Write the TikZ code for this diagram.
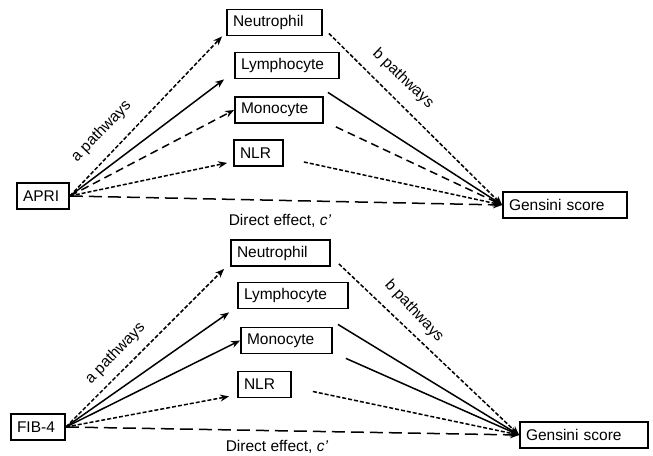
\documentclass[tikz,border=0pt]{standalone}
\usepackage{fontspec}
\setmainfont{Liberation Sans}
\usetikzlibrary{arrows.meta}

\begin{document}
\begin{tikzpicture}[x=1bp,y=-1bp,
  boite/.style={draw,line width=1.8bp,minimum height=26bp,inner xsep=6bp,inner ysep=0pt,align=left,font=\fontsize{15.5bp}{18bp}\selectfont},
  etiq/.style={inner sep=0pt,font=\fontsize{15.5bp}{18bp}\selectfont},
  fleche/.style={line width=1.5bp,-{Stealth[length=9bp,width=7bp]}},
  plein/.style={fleche},
  pointille/.style={fleche,dash pattern=on 4bp off 2bp},
  tirets/.style={fleche,dash pattern=on 8bp off 5bp},
  grandtirets/.style={fleche,dash pattern=on 13bp off 6bp}]
\useasboundingbox (0,0) rectangle (653,456);
%panneau du haut : APRI
\node[boite,text width=40bp] (apri) at (43,196) {APRI};
\node[boite,text width=83bp] (neu) at (274.5,22.5) {Neutrophil};
\node[boite,text width=92bp] (lym) at (287,65.5) {Lymphocyte};
\node[boite,text width=76bp] (mon) at (279,110) {Monocyte};
\node[boite,text width=37bp] (nlr) at (258.5,153) {NLR};
\node[boite,text width=112bp] (gen) at (565,205) {Gensini score};
\draw[pointille] (apri.east) -- ([xshift=-4bp]neu.south west);%a
\draw[plein] (apri.east) -- ([xshift=-10bp]lym.south west);
\draw[tirets] (apri.east) -- (mon.west);
\draw[pointille] (apri.east) -- ([xshift=-6bp,yshift=4bp]nlr.south west);
\draw[pointille] ([xshift=6bp,yshift=3bp]neu.south east) -- (gen.west);%b
\draw[plein] ([xshift=-12bp,yshift=-13bp]lym.south east) -- (gen.west);
\draw[tirets] ([xshift=12bp,yshift=-3bp]mon.south east) -- (gen.west);
\draw[pointille] ([xshift=20bp,yshift=-9bp]nlr.east) -- (gen.west);
\draw[grandtirets] (apri.east) -- (gen.west);%c'
\node[etiq,rotate=46] (a1) at (101.5,131.5) {a pathways};
\node[etiq,rotate=-44] (b1) at (403,78.5) {b pathways};
\node[etiq] (c1) at (280,221) {Direct effect, \textit{c'}};
%panneau du bas : FIB-4
\node[boite,text width=42bp] (fib) at (38,427) {FIB-4};
\node[boite,text width=87bp] (neub) at (280.5,253) {Neutrophil};
\node[boite,text width=98bp] (lymb) at (293,295.5) {Lymphocyte};
\node[boite,text width=79bp] (monb) at (286.5,340.5) {Monocyte};
\node[boite,text width=41bp] (nlrb) at (264.5,384.5) {NLR};
\node[boite,text width=116bp] (genb) at (584,435) {Gensini score};
\draw[pointille] (fib.east) -- ([xshift=-6bp,yshift=-2bp]neub.south west);%a
\draw[plein] (fib.east) -- ([xshift=-8bp,yshift=-3bp]lymb.south west);
\draw[plein] (fib.east) -- (monb.west);
\draw[pointille] (fib.east) -- ([xshift=-8bp,yshift=2bp]nlrb.south west);
\draw[pointille] ([xshift=8bp,yshift=3bp]neub.south east) -- (genb.west);%b
\draw[plein] ([xshift=-11bp,yshift=-15bp]lymb.south east) -- (genb.west);
\draw[plein] ([xshift=13bp,yshift=-4bp]monb.south east) -- (genb.west);
\draw[pointille] ([xshift=21bp,yshift=-7bp]nlrb.east) -- (genb.west);
\draw[grandtirets] (fib.east) -- (genb.west);%c'
\node[etiq,rotate=46] (a2) at (115.5,353.5) {a pathways};
\node[etiq,rotate=-47] (b2) at (414,311) {b pathways};
\node[etiq] (c2) at (277,447) {Direct effect, \textit{c'}};
\end{tikzpicture}
\end{document}
